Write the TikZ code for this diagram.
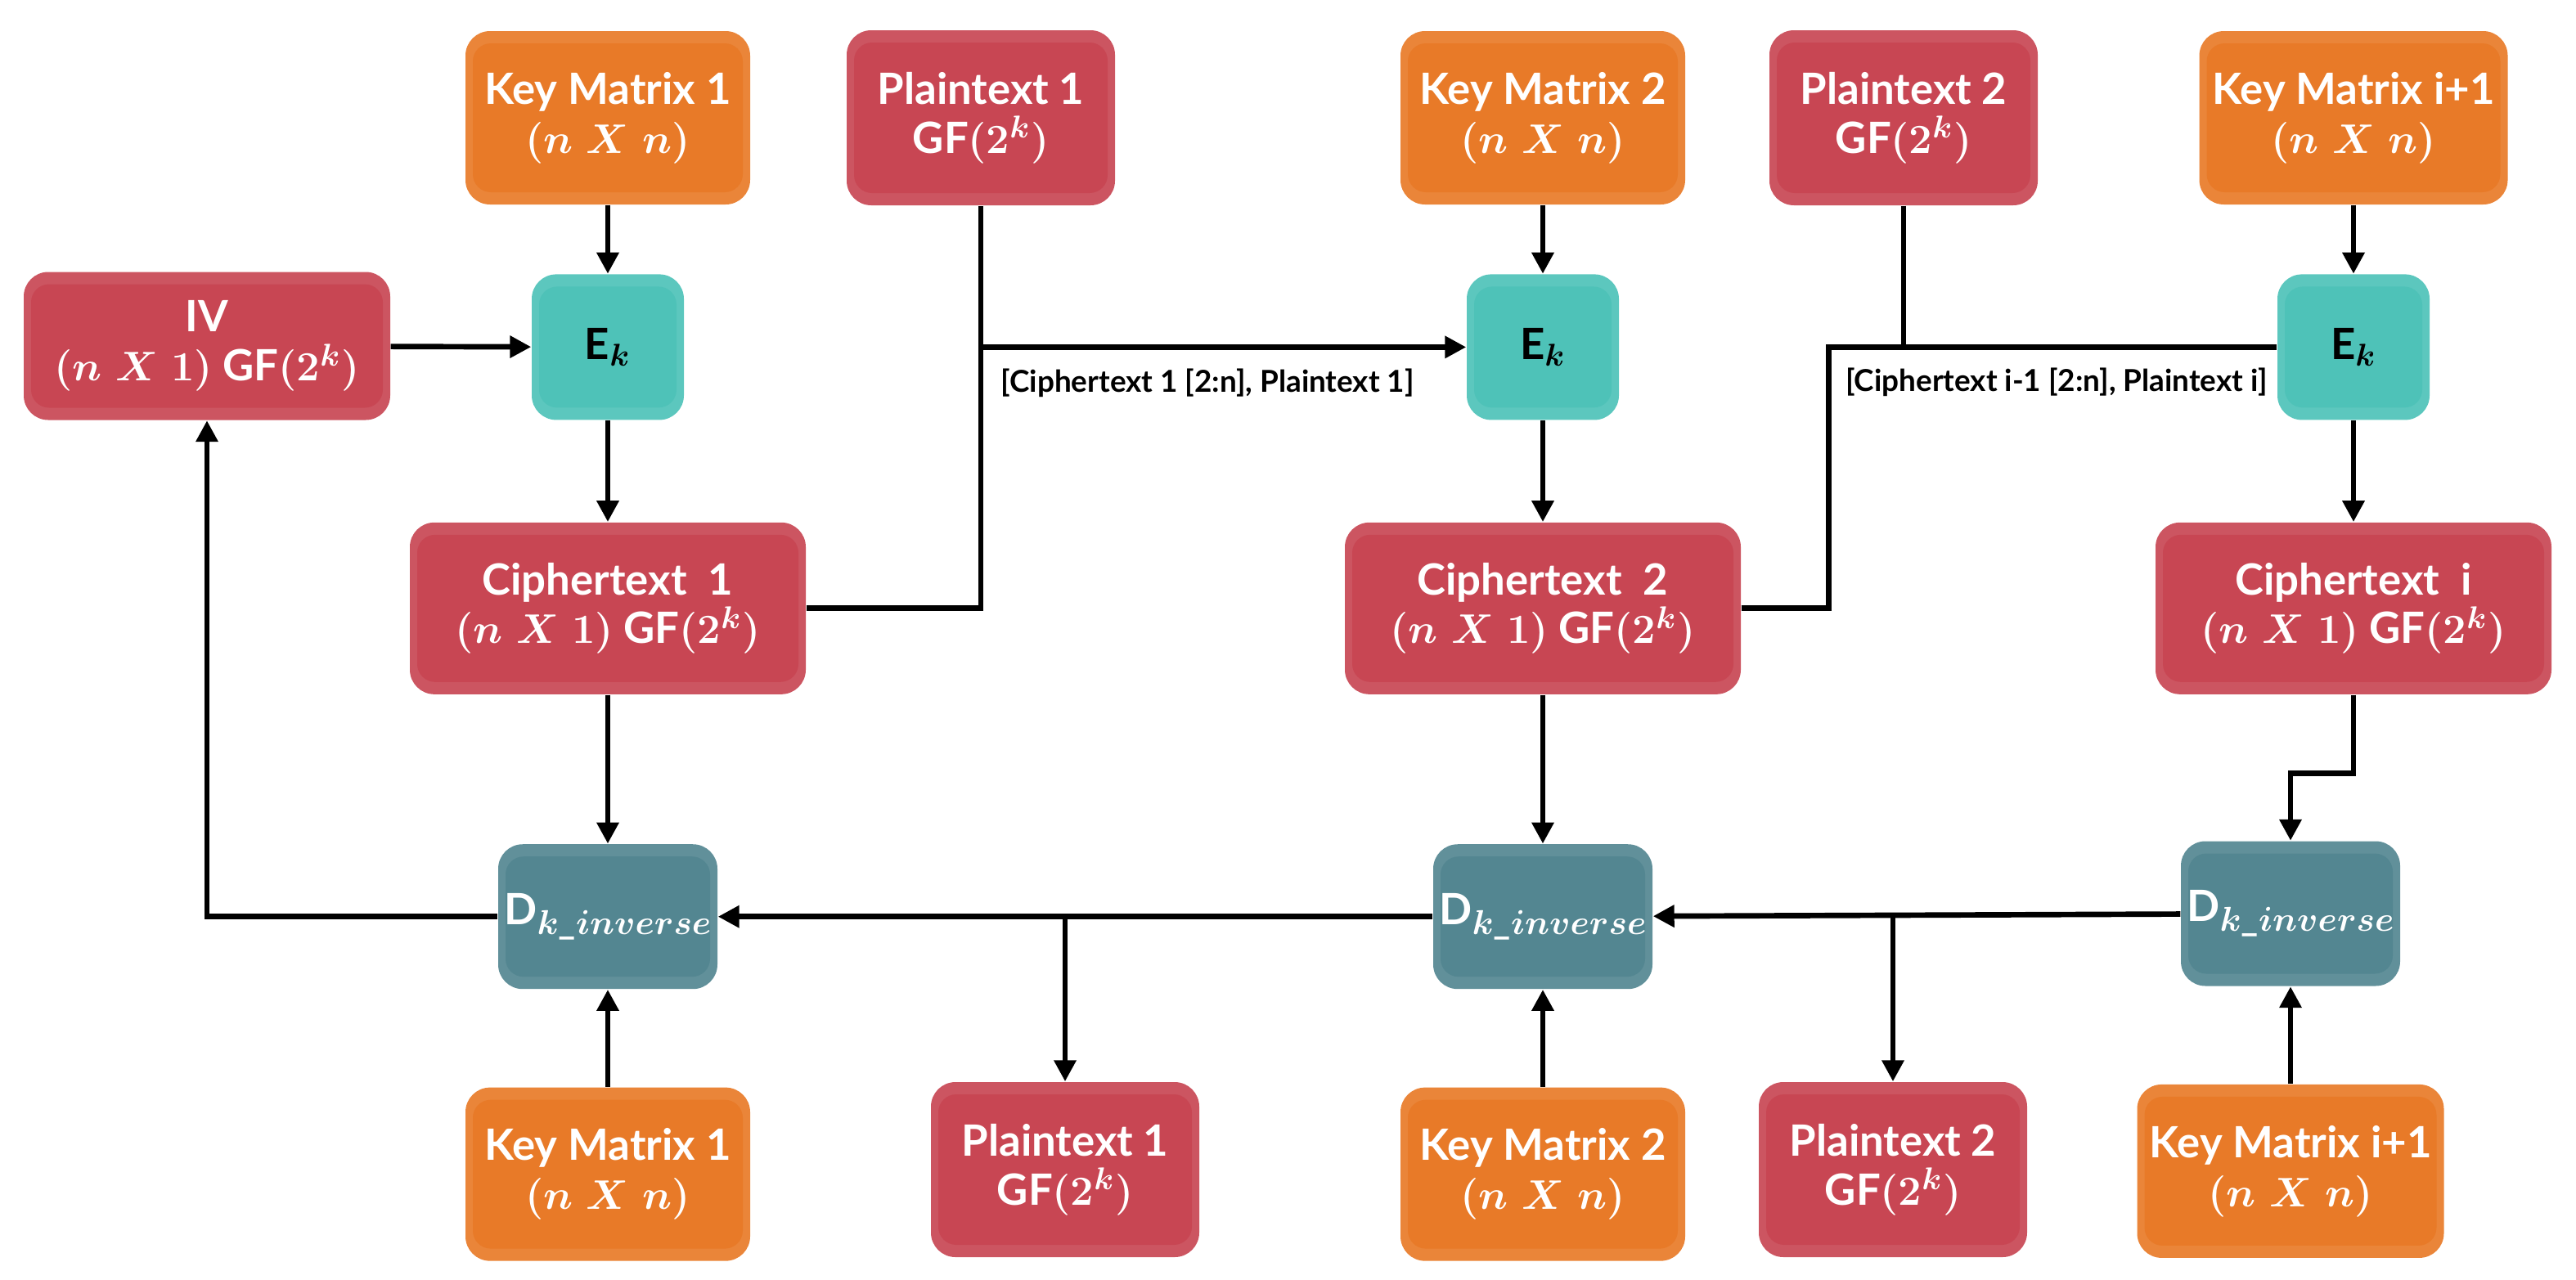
\documentclass[tikz,border=0pt]{standalone}
\usepackage{fontspec}
\setmainfont{Lato}
\usepackage{tikz}
\usetikzlibrary{positioning, arrows.meta, calc}
\definecolor{keyorange}{HTML}{E87A28}
\definecolor{ptred}{HTML}{C84653}
\definecolor{encteal}{HTML}{4EC2B8}
\definecolor{decteal}{HTML}{538691}
\newcommand{\dinv}{D\raisebox{-0.45ex}{\fontsize{13}{13}\selectfont$k\_inverse$}}
\tikzset{
  gloss/.style   = {fill=#1!92!white, path picture={
                    \fill[#1, rounded corners=0.22cm]
                      ([shift={(0.09,-0.15)}]path picture bounding box.north west) rectangle
                      ([shift={(-0.09,0.15)}]path picture bounding box.south east);}},
  blk/.style     = {rectangle, rounded corners=0.3cm, align=center, inner sep=2pt,
                    font=\bfseries\boldmath\fontsize{15}{17}\selectfont},
  keyblk/.style  = {blk, gloss=keyorange, text=white, minimum width=3.48cm, minimum height=2.12cm},
  ptblk/.style   = {blk, gloss=ptred, text=white, minimum width=3.28cm, minimum height=2.14cm},
  ctblk/.style   = {blk, gloss=ptred, text=white, minimum width=4.84cm, minimum height=2.10cm},
  encblk/.style  = {blk, gloss=encteal, text=black, minimum width=1.86cm, minimum height=1.78cm},
  decblk/.style  = {blk, gloss=decteal, text=white, minimum width=2.68cm, minimum height=1.77cm},
  lbl/.style     = {font=\bfseries\fontsize{10.5}{12}\selectfont, inner sep=0pt},
  ln/.style      = {line width=1.9pt},
  ar/.style      = {-{Triangle[length=0.26cm,width=0.26cm]}, line width=1.9pt},
}
\begin{document}
\begin{tikzpicture}
  \useasboundingbox (0,0) rectangle (31.49,-15.64);

  % ----- encryption chain (top) -----
  \node[keyblk] (km1t) at (7.43,-1.44) {Key Matrix 1\\$(n\;X\;n)$};
  \node[ptblk] (pt1t) at (11.99,-1.44) {Plaintext 1\\GF$(2^k)$};
  \node[keyblk] (km2t) at (18.86,-1.44) {Key Matrix 2\\$(n\;X\;n)$};
  \node[ptblk] (pt2t) at (23.27,-1.44) {Plaintext 2\\GF$(2^k)$};
  \node[keyblk, minimum width=3.77cm] (kmit) at (28.77,-1.44) {Key Matrix i+1\\$(n\;X\;n)$};

  \node[ptblk, minimum width=4.48cm, minimum height=1.81cm] (iv) at (2.53,-4.23) {IV\\$(n\;X\;1)$ GF$(2^k)$};
  \node[encblk, below=0.84cm of km1t] (ek1) {E$_k$};
  \node[encblk, below=0.84cm of km2t] (ek2) {E$_k$};
  \node[encblk, below=0.84cm of kmit] (ek3) {E$_k$};

  \node[ctblk, below=1.24cm of ek1] (ct1) {Ciphertext\enspace 1\\$(n\;X\;1)$ GF$(2^k)$};
  \node[ctblk, below=1.24cm of ek2] (ct2) {Ciphertext\enspace 2\\$(n\;X\;1)$ GF$(2^k)$};
  \node[ctblk, below=1.24cm of ek3] (cti) {Ciphertext\enspace i\\$(n\;X\;1)$ GF$(2^k)$};

  % ----- decryption chain (bottom) -----
  \node[decblk, below=1.82cm of ct1] (d1) {\dinv};
  \node[decblk, below=1.82cm of ct2] (d2) {\dinv};
  \node[decblk] (d3) at (28.00,-11.17) {\dinv};

  \node[keyblk, below=1.19cm of d1] (km1b) {Key Matrix 1\\$(n\;X\;n)$};
  \node[ptblk] (pt1b) at (13.02,-14.30) {Plaintext 1\\GF$(2^k)$};
  \node[keyblk, below=1.19cm of d2] (km2b) {Key Matrix 2\\$(n\;X\;n)$};
  \node[ptblk] (pt2b) at (23.14,-14.30) {Plaintext 2\\GF$(2^k)$};
  \node[keyblk, minimum width=3.75cm, below=1.19cm of d3] (kmib) {Key Matrix i+1\\$(n\;X\;n)$};

  % encryption arrows
  \draw[ar] (km1t) -- (ek1);
  \draw[ar] (km2t) -- (ek2);
  \draw[ar] (kmit) -- (ek3);
  \draw[ar] (iv) -- (ek1);
  \draw[ar] (ek1) -- (ct1);
  \draw[ar] (ek2) -- (ct2);
  \draw[ar] (ek3) -- (cti);

  \coordinate (j1) at (pt1t.south |- ek2.west);
  \draw[ln] (ct1.east) -| (pt1t.south);
  \draw[ar] (j1) -- (ek2.west);
  \node[lbl, anchor=west] (lab1) at ([xshift=0.24cm, yshift=-0.44cm]j1) {[Ciphertext 1 [2:n], Plaintext 1]};

  \coordinate (j2) at ([xshift=-5.48cm]ek3.west);
  \draw[ln] (ct2.east) -| (j2) -- (ek3.west);
  \draw[ln] (pt2t.south) -- (pt2t.south |- ek3.west);
  \node[lbl, anchor=west] (lab2) at ([xshift=0.20cm, yshift=-0.43cm]j2) {[Ciphertext i-1 [2:n], Plaintext i]};

  % decryption arrows
  \draw[ar] (ct1) -- (d1);
  \draw[ar] (ct2) -- (d2);
  \draw[ar] (cti.south) -- ++(0,-0.96) -| (d3.north);
  \draw[ar] (km1b) -- (d1);
  \draw[ar] (km2b) -- (d2);
  \draw[ar] (kmib) -- (d3);
  \draw[ar] (d3) -- (d2);
  \draw[ar] (d2) -- (d1);
  \draw[ar] (pt1b.north |- d1.east) -- (pt1b.north);
  \draw[ar] (pt2b.north |- d2.east) -- (pt2b.north);
  \draw[ar] (d1.west) -| (iv.south);

\end{tikzpicture}
\end{document}
